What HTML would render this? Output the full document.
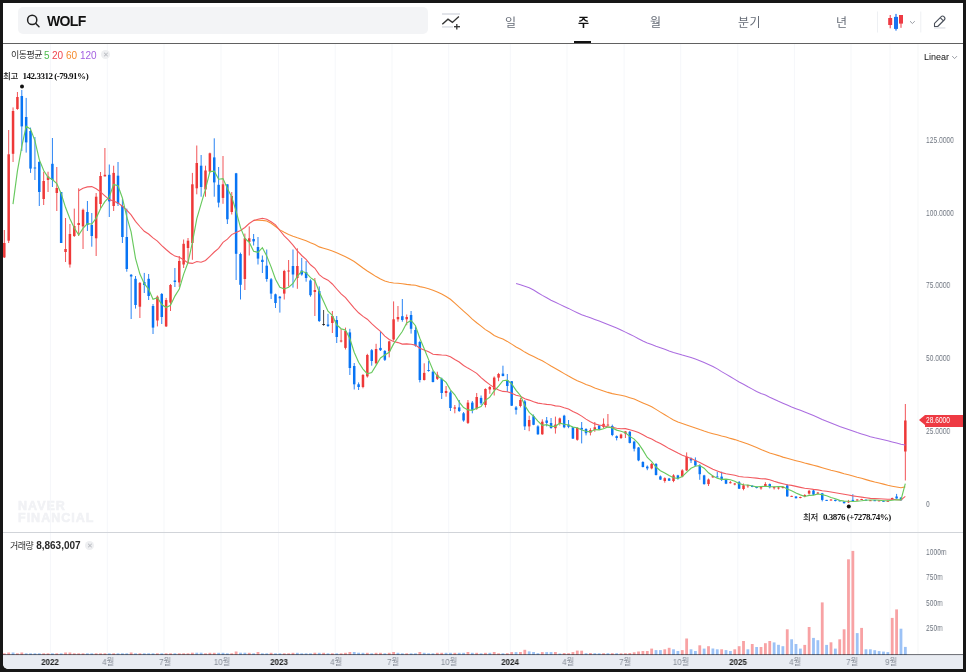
<!DOCTYPE html>
<html lang="ko"><head><meta charset="utf-8"><title>WOLF</title>
<style>
html,body{margin:0;padding:0;width:966px;height:672px;overflow:hidden;background:#171717;}
*{box-sizing:border-box;}
body{position:relative;font-family:"Liberation Sans","Noto Sans CJK KR",sans-serif;}
div{will-change:transform;}
#panel{position:absolute;left:3px;top:3px;width:960px;height:666px;background:#fff;border-radius:0 0 0 5px;overflow:hidden;}
.abs{position:absolute;}
#search{position:absolute;left:18px;top:7px;width:409.7px;height:27.3px;background:#f3f4f6;border-radius:5px;}
#wolf{position:absolute;left:46.5px;top:13px;font-size:14px;font-weight:bold;color:#111;letter-spacing:-0.65px;line-height:17px;}
.tab{position:absolute;top:15px;font-size:12px;line-height:16px;color:#666c77;font-family:"Liberation Sans","Noto Sans CJK KR",sans-serif;}
.tab.on{color:#111;font-weight:bold;}
#hline{position:absolute;left:3px;top:43px;width:960px;height:1px;background:#616161;}
#uline{position:absolute;left:574px;top:40.5px;width:17px;height:2.5px;background:#111;}
.yl{position:absolute;left:926px;font-size:8.6px;line-height:12px;color:#6f7680;font-family:"Liberation Sans",sans-serif;transform:scaleX(0.78);transform-origin:0 50%;white-space:nowrap;}
.xl{position:absolute;top:656px;width:40px;text-align:center;font-size:8.6px;line-height:12px;color:#868c96;font-family:"Liberation Sans","Noto Sans CJK KR",sans-serif;transform:scaleX(0.93);}
.xl.b{color:#222;font-weight:bold;}
#xaxis{position:absolute;left:3px;top:655px;width:960px;height:14px;background:#e9ecf2;border-top:1px solid #dfe2e8;border-radius:0 0 0 6px;}
#axline{position:absolute;left:3px;top:654px;width:960px;height:1px;background:rgba(30,34,44,0.62);}
#vsep{position:absolute;left:3px;top:532px;width:960px;height:1px;background:#d1d4d9;}
#legend{position:absolute;left:11px;top:49px;font-size:9px;line-height:13px;color:#2e2e2e;white-space:nowrap;}
#legend span{margin-left:0;}
.xbtn{display:inline-block;width:9px;height:9px;border-radius:50%;background:#eeeff1;color:#b4b7bd;font-size:7px;line-height:9px;text-align:center;vertical-align:1px;}
#vlabel{position:absolute;left:10px;top:539px;font-size:10px;line-height:13px;color:#2e2e2e;white-space:nowrap;}
#linear{position:absolute;left:923.5px;top:51px;font-size:9px;line-height:12px;color:#111;}
.mk{position:absolute;font-size:9px;line-height:11px;color:#111;white-space:nowrap;font-family:"Liberation Serif","Noto Sans CJK KR",serif;font-weight:bold;letter-spacing:-0.48px;}
.mk .k{font-family:"Noto Sans CJK KR",sans-serif;font-weight:500;letter-spacing:-0.3px;font-size:8.5px;color:#222;}
#wm{position:absolute;left:17.8px;top:501px;font-size:12.5px;line-height:11.5px;font-weight:bold;color:#f1f2f5;letter-spacing:1.0px;font-family:"Liberation Sans",sans-serif;-webkit-text-stroke:0.6px #f1f2f5;}
#ptag{position:absolute;left:924.8px;top:415px;width:38.2px;height:11.7px;background:#ee3a43;}
#ptag span{position:absolute;left:0.8px;top:0;color:#fff;font-size:8.6px;line-height:11.7px;transform:scaleX(0.77);transform-origin:0 50%;white-space:nowrap;}
#ptag:before{content:"";position:absolute;left:-6.1px;top:0;border-right:6.1px solid #ee3a43;border-top:5.85px solid transparent;border-bottom:5.85px solid transparent;}
.kr{font-size:9px;letter-spacing:-0.5px;}
.lg{position:absolute;top:48.5px;font-size:10px;line-height:13px;}
</style></head>
<body>
<div id="panel"></div>
<div id="search"></div>
<svg class="abs" style="left:0;top:0" width="966" height="44" viewBox="0 0 966 44">
  <circle cx="32.2" cy="19.9" r="4.6" fill="none" stroke="#222" stroke-width="1.5"/>
  <line x1="35.6" y1="23.3" x2="39" y2="26.7" stroke="#222" stroke-width="1.5" stroke-linecap="round"/>
  <rect x="442" y="13" width="18" height="2" fill="#e2e4e9"/>
  <rect x="442" y="26" width="11" height="1.8" fill="#e2e4e9"/>
  <polyline points="442.3,24.2 448,19.2 452.4,22.4 458.9,16.6" fill="none" stroke="#333" stroke-width="1.4"/>
  <line x1="454" y1="26.7" x2="460" y2="26.7" stroke="#333" stroke-width="1.3"/>
  <line x1="456.8" y1="23.9" x2="456.8" y2="29.6" stroke="#333" stroke-width="1.3"/>
  <rect x="877" y="11.5" width="1" height="21" fill="#eef0f3"/>
  <rect x="920.3" y="11.5" width="1" height="21" fill="#eef0f3"/>
  <rect x="889.7" y="15" width="1" height="13.3" fill="#ee3a43"/>
  <rect x="888.2" y="18" width="4" height="7" fill="#ee3a43"/>
  <rect x="895.4" y="13.9" width="1.2" height="16.7" fill="#1a73f0"/>
  <rect x="894" y="16.9" width="4" height="12" fill="#1a73f0"/>
  <rect x="900.5" y="15" width="1" height="12.8" fill="#ee3a43"/>
  <rect x="899" y="15" width="4" height="8.6" fill="#ee3a43"/>
  <polyline points="910,21.2 912.4,23.5 914.8,21.2" fill="none" stroke="#8e939b" stroke-width="0.9"/>
  <path d="M934.5,23.3 L941,16.8 A2.25,2.25 0 0 1 944.2,20 L937.7,26.5 L934.5,26.5 Z M940.2,17.6 L943.4,20.8" fill="none" stroke="#4a505a" stroke-width="1.1" stroke-linejoin="round"/>
  <rect x="934" y="27.3" width="11.4" height="1.3" fill="#dfe1e6"/>
</svg>
<svg class="abs" style="left:0;top:0" width="966" height="672" viewBox="0 0 966 672">
  <polyline points="952.2,56.1 954.6,58.6 957,56.1" fill="none" stroke="#8e939b" stroke-width="0.9"/>
</svg>
<div id="wolf">WOLF</div>
<div class="tab" style="left:505px">일</div>
<div class="tab on" style="left:577.7px">주</div>
<div class="tab" style="left:650px">월</div>
<div class="tab" style="left:738px;letter-spacing:0.5px">분기</div>
<div class="tab" style="left:835.5px">년</div>
<div id="uline"></div>
<div id="hline"></div>

<div id="wm">NAVER<br>FINANCIAL</div>

<svg class="abs" style="left:0;top:0" width="966" height="672" viewBox="0 0 966 672">
<defs>
<clipPath id="cc"><rect x="3" y="44" width="914" height="488"/></clipPath>
<clipPath id="cv"><rect x="3" y="533" width="914" height="122"/></clipPath>
</defs>
<rect x="49.9" y="44" width="1" height="610" fill="#f6f7fa"/>
<rect x="106.8" y="44" width="1" height="610" fill="#f6f7fa"/>
<rect x="163.5" y="44" width="1" height="610" fill="#f6f7fa"/>
<rect x="220.5" y="44" width="1" height="610" fill="#f6f7fa"/>
<rect x="278.0" y="44" width="1" height="610" fill="#f6f7fa"/>
<rect x="334.7" y="44" width="1" height="610" fill="#f6f7fa"/>
<rect x="391.5" y="44" width="1" height="610" fill="#f6f7fa"/>
<rect x="448.2" y="44" width="1" height="610" fill="#f6f7fa"/>
<rect x="509.8" y="44" width="1" height="610" fill="#f6f7fa"/>
<rect x="566.5" y="44" width="1" height="610" fill="#f6f7fa"/>
<rect x="623.6" y="44" width="1" height="610" fill="#f6f7fa"/>
<rect x="680.2" y="44" width="1" height="610" fill="#f6f7fa"/>
<rect x="737.3" y="44" width="1" height="610" fill="#f6f7fa"/>
<rect x="793.9" y="44" width="1" height="610" fill="#f6f7fa"/>
<rect x="850.5" y="44" width="1" height="610" fill="#f6f7fa"/>
<rect x="889.5" y="44" width="1" height="610" fill="#f6f7fa"/>
<rect x="917.2" y="44" width="1.6" height="610" fill="#f9fafb"/>
<g clip-path="url(#cc)"><rect x="3.80" y="230.0" width="1" height="28.0" fill="#f25558"/><rect x="3.05" y="243.0" width="2.5" height="14.4" fill="#ee3838"/><rect x="8.17" y="130.0" width="1" height="113.0" fill="#f25558"/><rect x="7.42" y="154.3" width="2.5" height="86.4" fill="#ee3838"/><rect x="12.55" y="107.4" width="1" height="54.6" fill="#f25558"/><rect x="11.80" y="111.0" width="2.5" height="42.8" fill="#ee3838"/><rect x="16.92" y="92.0" width="1" height="17.8" fill="#f25558"/><rect x="16.17" y="97.0" width="2.5" height="12.0" fill="#ee3838"/><rect x="21.30" y="90.0" width="1" height="61.0" fill="#2a84f4"/><rect x="20.55" y="96.0" width="2.5" height="30.4" fill="#0874f4"/><rect x="25.67" y="97.9" width="1" height="54.7" fill="#2a84f4"/><rect x="24.92" y="117.0" width="2.5" height="25.4" fill="#0874f4"/><rect x="30.04" y="127.6" width="1" height="45.3" fill="#2a84f4"/><rect x="29.29" y="131.0" width="2.5" height="37.6" fill="#0874f4"/><rect x="34.42" y="137.0" width="1" height="43.0" fill="#2a84f4"/><rect x="33.67" y="167.5" width="2.5" height="1.0" fill="#0874f4"/><rect x="38.79" y="161.0" width="1" height="45.0" fill="#2a84f4"/><rect x="38.04" y="162.0" width="2.5" height="30.0" fill="#0874f4"/><rect x="43.17" y="171.7" width="1" height="33.3" fill="#f25558"/><rect x="42.42" y="181.0" width="2.5" height="18.0" fill="#ee3838"/><rect x="47.54" y="171.7" width="1" height="20.3" fill="#f25558"/><rect x="46.79" y="176.4" width="2.5" height="3.6" fill="#ee3838"/><rect x="51.91" y="138.0" width="1" height="49.0" fill="#2a84f4"/><rect x="51.16" y="163.8" width="2.5" height="16.2" fill="#0874f4"/><rect x="56.29" y="167.0" width="1" height="44.0" fill="#f25558"/><rect x="55.54" y="188.0" width="2.5" height="5.0" fill="#ee3838"/><rect x="60.66" y="192.0" width="1" height="51.0" fill="#2a84f4"/><rect x="59.91" y="192.0" width="2.5" height="51.0" fill="#0874f4"/><rect x="65.04" y="218.0" width="1" height="44.0" fill="#f25558"/><rect x="64.29" y="249.0" width="2.5" height="3.0" fill="#ee3838"/><rect x="69.41" y="224.0" width="1" height="43.6" fill="#f25558"/><rect x="68.66" y="234.0" width="2.5" height="30.5" fill="#ee3838"/><rect x="73.78" y="208.6" width="1" height="28.4" fill="#f25558"/><rect x="73.03" y="226.0" width="2.5" height="10.0" fill="#ee3838"/><rect x="78.16" y="188.3" width="1" height="47.7" fill="#f25558"/><rect x="77.41" y="223.0" width="2.5" height="2.0" fill="#ee3838"/><rect x="82.53" y="208.6" width="1" height="40.4" fill="#f25558"/><rect x="81.78" y="209.8" width="2.5" height="16.6" fill="#ee3838"/><rect x="86.91" y="201.0" width="1" height="30.0" fill="#2a84f4"/><rect x="86.16" y="212.0" width="2.5" height="13.0" fill="#0874f4"/><rect x="91.28" y="213.0" width="1" height="33.7" fill="#2a84f4"/><rect x="90.53" y="225.0" width="2.5" height="11.0" fill="#0874f4"/><rect x="95.65" y="193.0" width="1" height="63.0" fill="#f25558"/><rect x="94.90" y="196.7" width="2.5" height="41.6" fill="#ee3838"/><rect x="100.03" y="172.0" width="1" height="36.0" fill="#f25558"/><rect x="99.28" y="176.0" width="2.5" height="28.0" fill="#ee3838"/><rect x="104.40" y="148.0" width="1" height="28.4" fill="#f25558"/><rect x="103.65" y="174.8" width="2.5" height="1.6" fill="#ee3838"/><rect x="108.78" y="164.5" width="1" height="52.5" fill="#2a84f4"/><rect x="108.03" y="174.8" width="2.5" height="26.6" fill="#0874f4"/><rect x="113.15" y="165.7" width="1" height="45.3" fill="#f25558"/><rect x="112.40" y="172.9" width="2.5" height="33.1" fill="#ee3838"/><rect x="117.52" y="162.0" width="1" height="44.0" fill="#2a84f4"/><rect x="116.77" y="175.7" width="2.5" height="28.1" fill="#0874f4"/><rect x="121.90" y="199.0" width="1" height="44.0" fill="#2a84f4"/><rect x="121.15" y="206.0" width="2.5" height="31.0" fill="#0874f4"/><rect x="126.27" y="208.6" width="1" height="63.1" fill="#2a84f4"/><rect x="125.52" y="237.0" width="2.5" height="32.0" fill="#0874f4"/><rect x="130.65" y="274.0" width="1" height="45.0" fill="#2a84f4"/><rect x="129.90" y="274.8" width="2.5" height="1.7" fill="#0874f4"/><rect x="135.02" y="276.0" width="1" height="32.6" fill="#2a84f4"/><rect x="134.27" y="278.8" width="2.5" height="26.2" fill="#0874f4"/><rect x="139.39" y="282.0" width="1" height="36.0" fill="#f25558"/><rect x="138.64" y="282.9" width="2.5" height="23.8" fill="#ee3838"/><rect x="143.77" y="272.9" width="1" height="20.1" fill="#2a84f4"/><rect x="143.02" y="282.0" width="2.5" height="3.0" fill="#0874f4"/><rect x="148.14" y="274.0" width="1" height="26.0" fill="#2a84f4"/><rect x="147.39" y="278.8" width="2.5" height="17.2" fill="#0874f4"/><rect x="152.52" y="304.0" width="1" height="30.0" fill="#2a84f4"/><rect x="151.77" y="306.0" width="2.5" height="21.6" fill="#0874f4"/><rect x="156.89" y="295.5" width="1" height="30.9" fill="#f25558"/><rect x="156.14" y="296.7" width="2.5" height="23.8" fill="#ee3838"/><rect x="161.26" y="293.0" width="1" height="31.0" fill="#2a84f4"/><rect x="160.51" y="294.0" width="2.5" height="23.0" fill="#0874f4"/><rect x="165.64" y="297.9" width="1" height="29.1" fill="#f25558"/><rect x="164.89" y="300.0" width="2.5" height="26.4" fill="#ee3838"/><rect x="170.01" y="284.0" width="1" height="27.0" fill="#f25558"/><rect x="169.26" y="285.0" width="2.5" height="17.6" fill="#ee3838"/><rect x="174.39" y="268.0" width="1" height="19.0" fill="#2a84f4"/><rect x="173.64" y="280.5" width="2.5" height="1.5" fill="#0874f4"/><rect x="178.76" y="256.0" width="1" height="31.0" fill="#f25558"/><rect x="178.01" y="261.0" width="2.5" height="21.4" fill="#ee3838"/><rect x="183.13" y="239.5" width="1" height="28.5" fill="#f25558"/><rect x="182.38" y="243.8" width="2.5" height="20.7" fill="#ee3838"/><rect x="187.51" y="238.0" width="1" height="25.0" fill="#f25558"/><rect x="186.76" y="240.7" width="2.5" height="7.3" fill="#ee3838"/><rect x="191.88" y="172.9" width="1" height="86.9" fill="#f25558"/><rect x="191.13" y="184.3" width="2.5" height="58.7" fill="#ee3838"/><rect x="196.26" y="145.5" width="1" height="48.8" fill="#f25558"/><rect x="195.51" y="163.0" width="2.5" height="25.3" fill="#ee3838"/><rect x="200.63" y="155.0" width="1" height="41.7" fill="#2a84f4"/><rect x="199.88" y="165.7" width="2.5" height="21.3" fill="#0874f4"/><rect x="205.00" y="165.7" width="1" height="31.0" fill="#f25558"/><rect x="204.25" y="170.5" width="2.5" height="19.0" fill="#ee3838"/><rect x="209.38" y="152.6" width="1" height="20.3" fill="#f25558"/><rect x="208.63" y="153.3" width="2.5" height="18.4" fill="#ee3838"/><rect x="213.75" y="138.3" width="1" height="58.4" fill="#2a84f4"/><rect x="213.00" y="157.4" width="2.5" height="25.0" fill="#0874f4"/><rect x="218.13" y="167.0" width="1" height="40.4" fill="#2a84f4"/><rect x="217.38" y="184.8" width="2.5" height="17.8" fill="#0874f4"/><rect x="222.50" y="156.0" width="1" height="47.8" fill="#f25558"/><rect x="221.75" y="184.3" width="2.5" height="13.6" fill="#ee3838"/><rect x="226.87" y="184.3" width="1" height="39.7" fill="#2a84f4"/><rect x="226.12" y="184.3" width="2.5" height="35.0" fill="#0874f4"/><rect x="231.25" y="192.0" width="1" height="22.5" fill="#f25558"/><rect x="230.50" y="196.0" width="2.5" height="16.0" fill="#ee3838"/><rect x="235.62" y="172.9" width="1" height="107.1" fill="#2a84f4"/><rect x="234.87" y="173.3" width="2.5" height="80.5" fill="#0874f4"/><rect x="240.00" y="252.6" width="1" height="46.9" fill="#2a84f4"/><rect x="239.25" y="254.0" width="2.5" height="30.8" fill="#0874f4"/><rect x="244.37" y="233.6" width="1" height="56.4" fill="#f25558"/><rect x="243.62" y="238.3" width="2.5" height="40.7" fill="#ee3838"/><rect x="248.74" y="226.4" width="1" height="29.1" fill="#f25558"/><rect x="247.99" y="238.3" width="2.5" height="3.7" fill="#ee3838"/><rect x="253.12" y="234.0" width="1" height="11.5" fill="#2a84f4"/><rect x="252.37" y="239.0" width="2.5" height="2.4" fill="#0874f4"/><rect x="257.49" y="237.0" width="1" height="27.5" fill="#2a84f4"/><rect x="256.74" y="247.0" width="2.5" height="11.6" fill="#0874f4"/><rect x="261.87" y="255.5" width="1" height="17.5" fill="#2a84f4"/><rect x="261.12" y="259.8" width="2.5" height="2.2" fill="#0874f4"/><rect x="266.24" y="249.5" width="1" height="32.2" fill="#2a84f4"/><rect x="265.49" y="265.7" width="2.5" height="13.3" fill="#0874f4"/><rect x="270.61" y="278.0" width="1" height="21.0" fill="#2a84f4"/><rect x="269.86" y="279.3" width="2.5" height="14.3" fill="#0874f4"/><rect x="274.99" y="293.6" width="1" height="14.4" fill="#2a84f4"/><rect x="274.24" y="294.3" width="2.5" height="8.7" fill="#0874f4"/><rect x="279.36" y="296.0" width="1" height="16.6" fill="#2a84f4"/><rect x="278.61" y="296.7" width="2.5" height="1.6" fill="#0874f4"/><rect x="283.74" y="269.8" width="1" height="29.7" fill="#f25558"/><rect x="282.99" y="271.0" width="2.5" height="22.6" fill="#ee3838"/><rect x="288.11" y="260.0" width="1" height="26.4" fill="#f25558"/><rect x="287.36" y="270.5" width="2.5" height="1.0" fill="#ee3838"/><rect x="292.48" y="249.5" width="1" height="38.1" fill="#2a84f4"/><rect x="291.73" y="266.0" width="2.5" height="8.5" fill="#0874f4"/><rect x="296.86" y="248.3" width="1" height="40.5" fill="#f25558"/><rect x="296.11" y="266.0" width="2.5" height="12.0" fill="#ee3838"/><rect x="301.23" y="257.9" width="1" height="17.8" fill="#2a84f4"/><rect x="300.48" y="270.5" width="2.5" height="4.0" fill="#0874f4"/><rect x="305.61" y="261.0" width="1" height="20.7" fill="#2a84f4"/><rect x="304.86" y="272.0" width="2.5" height="6.0" fill="#0874f4"/><rect x="309.98" y="279.3" width="1" height="17.4" fill="#2a84f4"/><rect x="309.23" y="280.5" width="2.5" height="14.7" fill="#0874f4"/><rect x="314.35" y="278.0" width="1" height="38.0" fill="#f25558"/><rect x="313.60" y="290.0" width="2.5" height="2.0" fill="#ee3838"/><rect x="318.73" y="286.4" width="1" height="35.6" fill="#2a84f4"/><rect x="317.98" y="291.0" width="2.5" height="30.0" fill="#0874f4"/><rect x="323.10" y="310.0" width="1" height="15.7" fill="#444"/><rect x="322.35" y="324.0" width="2.5" height="1.0" fill="#222"/><rect x="327.48" y="313.8" width="1" height="13.2" fill="#2a84f4"/><rect x="326.73" y="324.5" width="2.5" height="1.5" fill="#0874f4"/><rect x="331.85" y="311.0" width="1" height="22.0" fill="#f25558"/><rect x="331.10" y="316.0" width="2.5" height="7.0" fill="#ee3838"/><rect x="336.22" y="316.0" width="1" height="27.0" fill="#2a84f4"/><rect x="335.47" y="320.0" width="2.5" height="17.0" fill="#0874f4"/><rect x="340.60" y="329.0" width="1" height="13.4" fill="#f25558"/><rect x="339.85" y="340.5" width="2.5" height="1.0" fill="#ee3838"/><rect x="344.97" y="327.6" width="1" height="21.9" fill="#f25558"/><rect x="344.22" y="331.0" width="2.5" height="16.9" fill="#ee3838"/><rect x="349.35" y="328.8" width="1" height="46.2" fill="#2a84f4"/><rect x="348.60" y="332.4" width="2.5" height="35.6" fill="#0874f4"/><rect x="353.72" y="363.0" width="1" height="26.5" fill="#2a84f4"/><rect x="352.97" y="366.0" width="2.5" height="18.3" fill="#0874f4"/><rect x="358.09" y="382.4" width="1" height="7.6" fill="#2a84f4"/><rect x="357.34" y="384.3" width="2.5" height="2.7" fill="#0874f4"/><rect x="362.47" y="374.0" width="1" height="14.3" fill="#f25558"/><rect x="361.72" y="375.0" width="2.5" height="12.0" fill="#ee3838"/><rect x="366.84" y="353.8" width="1" height="23.8" fill="#f25558"/><rect x="366.09" y="355.0" width="2.5" height="21.4" fill="#ee3838"/><rect x="371.22" y="349.0" width="1" height="16.7" fill="#2a84f4"/><rect x="370.47" y="350.2" width="2.5" height="10.8" fill="#0874f4"/><rect x="375.59" y="343.8" width="1" height="20.7" fill="#f25558"/><rect x="374.84" y="349.0" width="2.5" height="14.3" fill="#ee3838"/><rect x="379.96" y="332.0" width="1" height="19.0" fill="#2a84f4"/><rect x="379.21" y="347.9" width="2.5" height="2.3" fill="#0874f4"/><rect x="384.34" y="350.0" width="1" height="11.0" fill="#2a84f4"/><rect x="383.59" y="351.0" width="2.5" height="8.8" fill="#0874f4"/><rect x="388.71" y="340.7" width="1" height="16.7" fill="#f25558"/><rect x="387.96" y="341.4" width="2.5" height="10.0" fill="#ee3838"/><rect x="393.09" y="301.4" width="1" height="39.3" fill="#f25558"/><rect x="392.34" y="319.3" width="2.5" height="20.2" fill="#ee3838"/><rect x="397.46" y="306.0" width="1" height="15.7" fill="#f25558"/><rect x="396.71" y="317.0" width="2.5" height="2.3" fill="#ee3838"/><rect x="401.83" y="299.0" width="1" height="22.7" fill="#2a84f4"/><rect x="401.08" y="316.2" width="2.5" height="3.8" fill="#0874f4"/><rect x="406.21" y="314.5" width="1" height="10.7" fill="#f25558"/><rect x="405.46" y="317.0" width="2.5" height="2.3" fill="#ee3838"/><rect x="410.58" y="311.0" width="1" height="22.6" fill="#2a84f4"/><rect x="409.83" y="315.0" width="2.5" height="13.8" fill="#0874f4"/><rect x="414.96" y="326.4" width="1" height="20.3" fill="#2a84f4"/><rect x="414.21" y="330.0" width="2.5" height="15.5" fill="#0874f4"/><rect x="419.33" y="340.7" width="1" height="41.7" fill="#2a84f4"/><rect x="418.58" y="342.0" width="2.5" height="38.0" fill="#0874f4"/><rect x="423.70" y="363.3" width="1" height="17.2" fill="#f25558"/><rect x="422.95" y="372.9" width="2.5" height="7.1" fill="#ee3838"/><rect x="428.08" y="361.0" width="1" height="10.7" fill="#2a84f4"/><rect x="427.33" y="370.0" width="2.5" height="1.0" fill="#0874f4"/><rect x="432.45" y="370.5" width="1" height="11.9" fill="#2a84f4"/><rect x="431.70" y="371.7" width="2.5" height="10.3" fill="#0874f4"/><rect x="436.83" y="371.7" width="1" height="8.3" fill="#f25558"/><rect x="436.08" y="374.8" width="2.5" height="4.0" fill="#ee3838"/><rect x="441.20" y="377.6" width="1" height="21.4" fill="#2a84f4"/><rect x="440.45" y="378.8" width="2.5" height="14.2" fill="#0874f4"/><rect x="445.57" y="386.0" width="1" height="10.7" fill="#f25558"/><rect x="444.82" y="391.0" width="2.5" height="2.0" fill="#ee3838"/><rect x="449.95" y="390.7" width="1" height="20.3" fill="#2a84f4"/><rect x="449.20" y="392.4" width="2.5" height="15.6" fill="#0874f4"/><rect x="454.32" y="405.0" width="1" height="8.3" fill="#f25558"/><rect x="453.57" y="407.4" width="2.5" height="1.2" fill="#ee3838"/><rect x="458.70" y="400.0" width="1" height="12.0" fill="#2a84f4"/><rect x="457.95" y="407.4" width="2.5" height="3.6" fill="#0874f4"/><rect x="463.07" y="412.0" width="1" height="9.7" fill="#2a84f4"/><rect x="462.32" y="413.3" width="2.5" height="7.2" fill="#0874f4"/><rect x="467.44" y="400.0" width="1" height="24.0" fill="#f25558"/><rect x="466.69" y="402.6" width="2.5" height="20.3" fill="#ee3838"/><rect x="471.82" y="401.0" width="1" height="12.3" fill="#2a84f4"/><rect x="471.07" y="402.6" width="2.5" height="7.2" fill="#0874f4"/><rect x="476.19" y="393.0" width="1" height="16.8" fill="#f25558"/><rect x="475.44" y="397.0" width="2.5" height="11.6" fill="#ee3838"/><rect x="480.57" y="395.5" width="1" height="9.5" fill="#2a84f4"/><rect x="479.82" y="397.9" width="2.5" height="5.4" fill="#0874f4"/><rect x="484.94" y="388.3" width="1" height="19.1" fill="#f25558"/><rect x="484.19" y="389.0" width="2.5" height="16.0" fill="#ee3838"/><rect x="489.31" y="386.0" width="1" height="7.8" fill="#f25558"/><rect x="488.56" y="387.0" width="2.5" height="2.5" fill="#ee3838"/><rect x="493.69" y="376.4" width="1" height="19.1" fill="#f25558"/><rect x="492.94" y="377.6" width="2.5" height="11.9" fill="#ee3838"/><rect x="498.06" y="372.9" width="1" height="8.3" fill="#f25558"/><rect x="497.31" y="374.0" width="2.5" height="3.6" fill="#ee3838"/><rect x="502.44" y="365.7" width="1" height="10.7" fill="#2a84f4"/><rect x="501.69" y="373.6" width="2.5" height="2.4" fill="#0874f4"/><rect x="506.81" y="374.0" width="1" height="18.0" fill="#2a84f4"/><rect x="506.06" y="380.0" width="2.5" height="6.0" fill="#0874f4"/><rect x="511.18" y="381.0" width="1" height="25.0" fill="#2a84f4"/><rect x="510.43" y="381.2" width="2.5" height="24.5" fill="#0874f4"/><rect x="515.56" y="406.0" width="1" height="8.5" fill="#2a84f4"/><rect x="514.81" y="407.4" width="2.5" height="2.4" fill="#0874f4"/><rect x="519.93" y="397.9" width="1" height="9.5" fill="#f25558"/><rect x="519.18" y="400.0" width="2.5" height="6.0" fill="#ee3838"/><rect x="524.31" y="400.0" width="1" height="30.0" fill="#2a84f4"/><rect x="523.56" y="401.4" width="2.5" height="25.0" fill="#0874f4"/><rect x="528.68" y="415.7" width="1" height="15.5" fill="#f25558"/><rect x="527.93" y="420.0" width="2.5" height="6.4" fill="#ee3838"/><rect x="533.05" y="414.5" width="1" height="10.7" fill="#2a84f4"/><rect x="532.30" y="416.2" width="2.5" height="8.6" fill="#0874f4"/><rect x="537.43" y="425.2" width="1" height="9.6" fill="#2a84f4"/><rect x="536.68" y="426.4" width="2.5" height="7.9" fill="#0874f4"/><rect x="541.80" y="419.3" width="1" height="15.5" fill="#f25558"/><rect x="541.05" y="421.7" width="2.5" height="12.6" fill="#ee3838"/><rect x="546.18" y="417.0" width="1" height="9.4" fill="#2a84f4"/><rect x="545.43" y="420.5" width="2.5" height="2.4" fill="#0874f4"/><rect x="550.55" y="418.0" width="1" height="10.8" fill="#2a84f4"/><rect x="549.80" y="423.0" width="2.5" height="5.0" fill="#0874f4"/><rect x="554.92" y="416.6" width="1" height="17.0" fill="#f25558"/><rect x="554.17" y="424.6" width="2.5" height="3.6" fill="#ee3838"/><rect x="559.30" y="417.5" width="1" height="8.0" fill="#f25558"/><rect x="558.55" y="418.4" width="2.5" height="5.4" fill="#ee3838"/><rect x="563.67" y="414.8" width="1" height="13.4" fill="#2a84f4"/><rect x="562.92" y="415.7" width="2.5" height="11.6" fill="#0874f4"/><rect x="568.05" y="420.0" width="1" height="8.2" fill="#2a84f4"/><rect x="567.30" y="424.6" width="2.5" height="2.2" fill="#0874f4"/><rect x="572.42" y="426.8" width="1" height="12.2" fill="#2a84f4"/><rect x="571.67" y="427.3" width="2.5" height="11.3" fill="#0874f4"/><rect x="576.79" y="427.3" width="1" height="13.4" fill="#f25558"/><rect x="576.04" y="427.9" width="2.5" height="11.9" fill="#ee3838"/><rect x="581.17" y="422.0" width="1" height="21.4" fill="#2a84f4"/><rect x="580.42" y="427.9" width="2.5" height="1.7" fill="#0874f4"/><rect x="585.54" y="428.2" width="1" height="7.2" fill="#2a84f4"/><rect x="584.79" y="429.0" width="2.5" height="4.2" fill="#0874f4"/><rect x="589.92" y="428.2" width="1" height="7.2" fill="#f25558"/><rect x="589.17" y="430.0" width="2.5" height="2.7" fill="#ee3838"/><rect x="594.29" y="422.0" width="1" height="9.8" fill="#f25558"/><rect x="593.54" y="427.3" width="2.5" height="2.7" fill="#ee3838"/><rect x="598.66" y="425.0" width="1" height="5.0" fill="#2a84f4"/><rect x="597.91" y="425.5" width="2.5" height="3.6" fill="#0874f4"/><rect x="603.04" y="418.4" width="1" height="9.8" fill="#f25558"/><rect x="602.29" y="423.8" width="2.5" height="3.1" fill="#ee3838"/><rect x="607.41" y="414.0" width="1" height="11.5" fill="#f25558"/><rect x="606.66" y="424.6" width="2.5" height="1.0" fill="#ee3838"/><rect x="611.79" y="424.6" width="1" height="11.6" fill="#2a84f4"/><rect x="611.04" y="426.0" width="2.5" height="9.0" fill="#0874f4"/><rect x="616.16" y="435.4" width="1" height="5.0" fill="#2a84f4"/><rect x="615.41" y="436.2" width="2.5" height="1.8" fill="#0874f4"/><rect x="620.53" y="433.6" width="1" height="5.4" fill="#f25558"/><rect x="619.78" y="434.5" width="2.5" height="3.5" fill="#ee3838"/><rect x="624.91" y="431.0" width="1" height="7.0" fill="#f25558"/><rect x="624.16" y="431.4" width="2.5" height="2.2" fill="#ee3838"/><rect x="629.28" y="431.0" width="1" height="12.4" fill="#2a84f4"/><rect x="628.53" y="431.8" width="2.5" height="11.1" fill="#0874f4"/><rect x="633.66" y="440.7" width="1" height="10.7" fill="#2a84f4"/><rect x="632.91" y="441.6" width="2.5" height="7.1" fill="#0874f4"/><rect x="638.03" y="447.0" width="1" height="14.2" fill="#2a84f4"/><rect x="637.28" y="447.5" width="2.5" height="12.9" fill="#0874f4"/><rect x="642.40" y="461.2" width="1" height="6.2" fill="#2a84f4"/><rect x="641.65" y="462.0" width="2.5" height="5.0" fill="#0874f4"/><rect x="646.78" y="465.4" width="1" height="4.8" fill="#2a84f4"/><rect x="646.03" y="466.6" width="2.5" height="1.8" fill="#0874f4"/><rect x="651.15" y="463.0" width="1" height="6.3" fill="#f25558"/><rect x="650.40" y="464.0" width="2.5" height="4.4" fill="#ee3838"/><rect x="655.53" y="463.0" width="1" height="12.5" fill="#2a84f4"/><rect x="654.78" y="464.0" width="2.5" height="11.0" fill="#0874f4"/><rect x="659.90" y="475.5" width="1" height="4.5" fill="#2a84f4"/><rect x="659.15" y="476.4" width="2.5" height="3.2" fill="#0874f4"/><rect x="664.27" y="477.3" width="1" height="5.4" fill="#f25558"/><rect x="663.52" y="478.2" width="2.5" height="2.8" fill="#ee3838"/><rect x="668.65" y="477.9" width="1" height="3.1" fill="#2a84f4"/><rect x="667.90" y="478.5" width="2.5" height="2.2" fill="#0874f4"/><rect x="673.02" y="474.2" width="1" height="8.0" fill="#f25558"/><rect x="672.27" y="475.4" width="2.5" height="5.6" fill="#ee3838"/><rect x="677.40" y="474.8" width="1" height="4.9" fill="#2a84f4"/><rect x="676.65" y="475.4" width="2.5" height="3.1" fill="#0874f4"/><rect x="681.77" y="469.2" width="1" height="8.1" fill="#f25558"/><rect x="681.02" y="470.4" width="2.5" height="6.2" fill="#ee3838"/><rect x="686.14" y="452.4" width="1" height="18.6" fill="#f25558"/><rect x="685.39" y="456.8" width="2.5" height="13.6" fill="#ee3838"/><rect x="690.52" y="457.4" width="1" height="5.6" fill="#2a84f4"/><rect x="689.77" y="458.4" width="2.5" height="2.1" fill="#0874f4"/><rect x="694.89" y="457.4" width="1" height="8.6" fill="#2a84f4"/><rect x="694.14" y="460.5" width="2.5" height="5.0" fill="#0874f4"/><rect x="699.27" y="464.2" width="1" height="15.6" fill="#2a84f4"/><rect x="698.52" y="465.5" width="2.5" height="8.7" fill="#0874f4"/><rect x="703.64" y="474.8" width="1" height="9.9" fill="#2a84f4"/><rect x="702.89" y="475.4" width="2.5" height="8.7" fill="#0874f4"/><rect x="708.01" y="478.5" width="1" height="7.5" fill="#f25558"/><rect x="707.26" y="479.5" width="2.5" height="4.6" fill="#ee3838"/><rect x="712.39" y="475.4" width="1" height="2.5" fill="#f25558"/><rect x="711.64" y="476.0" width="2.5" height="1.3" fill="#ee3838"/><rect x="716.76" y="471.7" width="1" height="5.6" fill="#2a84f4"/><rect x="716.01" y="476.5" width="2.5" height="1.0" fill="#0874f4"/><rect x="721.14" y="471.7" width="1" height="9.3" fill="#2a84f4"/><rect x="720.39" y="476.6" width="2.5" height="3.1" fill="#0874f4"/><rect x="725.51" y="479.0" width="1" height="5.1" fill="#2a84f4"/><rect x="724.76" y="479.8" width="2.5" height="3.9" fill="#0874f4"/><rect x="729.88" y="481.0" width="1" height="2.5" fill="#f25558"/><rect x="729.13" y="482.2" width="2.5" height="1.0" fill="#ee3838"/><rect x="734.26" y="482.9" width="1" height="2.4" fill="#f25558"/><rect x="733.51" y="483.5" width="2.5" height="1.0" fill="#ee3838"/><rect x="738.63" y="481.0" width="1" height="8.0" fill="#2a84f4"/><rect x="737.88" y="482.2" width="2.5" height="6.5" fill="#0874f4"/><rect x="743.01" y="483.5" width="1" height="6.8" fill="#f25558"/><rect x="742.26" y="485.3" width="2.5" height="3.7" fill="#ee3838"/><rect x="747.38" y="484.7" width="1" height="3.1" fill="#f25558"/><rect x="746.63" y="485.3" width="2.5" height="1.0" fill="#ee3838"/><rect x="751.75" y="485.3" width="1" height="1.9" fill="#2a84f4"/><rect x="751.00" y="485.7" width="2.5" height="1.3" fill="#0874f4"/><rect x="756.13" y="486.6" width="1" height="1.8" fill="#2a84f4"/><rect x="755.38" y="487.0" width="2.5" height="1.0" fill="#0874f4"/><rect x="760.50" y="486.6" width="1" height="3.1" fill="#f25558"/><rect x="759.75" y="487.2" width="2.5" height="1.2" fill="#ee3838"/><rect x="764.88" y="482.2" width="1" height="4.4" fill="#f25558"/><rect x="764.13" y="484.0" width="2.5" height="2.2" fill="#ee3838"/><rect x="769.25" y="483.5" width="1" height="4.9" fill="#2a84f4"/><rect x="768.50" y="484.1" width="2.5" height="3.1" fill="#0874f4"/><rect x="773.62" y="486.4" width="1" height="3.1" fill="#f25558"/><rect x="772.87" y="487.2" width="2.5" height="1.0" fill="#ee3838"/><rect x="778.00" y="487.0" width="1" height="2.5" fill="#f25558"/><rect x="777.25" y="487.5" width="2.5" height="1.0" fill="#ee3838"/><rect x="782.37" y="486.7" width="1" height="1.8" fill="#f25558"/><rect x="781.62" y="487.0" width="2.5" height="1.0" fill="#ee3838"/><rect x="786.75" y="484.3" width="1" height="12.4" fill="#2a84f4"/><rect x="786.00" y="485.4" width="2.5" height="11.0" fill="#0874f4"/><rect x="791.12" y="495.7" width="1" height="1.0" fill="#f25558"/><rect x="790.37" y="495.9" width="2.5" height="1.0" fill="#ee3838"/><rect x="795.49" y="496.2" width="1" height="2.3" fill="#2a84f4"/><rect x="794.74" y="496.5" width="2.5" height="1.7" fill="#0874f4"/><rect x="799.87" y="496.7" width="1" height="1.6" fill="#f25558"/><rect x="799.12" y="497.0" width="2.5" height="1.0" fill="#ee3838"/><rect x="804.24" y="494.2" width="1" height="3.1" fill="#f25558"/><rect x="803.49" y="495.0" width="2.5" height="1.4" fill="#ee3838"/><rect x="808.62" y="490.0" width="1" height="4.7" fill="#f25558"/><rect x="807.87" y="490.8" width="2.5" height="2.8" fill="#ee3838"/><rect x="812.99" y="490.0" width="1" height="5.2" fill="#2a84f4"/><rect x="812.24" y="490.5" width="2.5" height="4.2" fill="#0874f4"/><rect x="817.36" y="492.0" width="1" height="2.2" fill="#f25558"/><rect x="816.61" y="492.6" width="2.5" height="1.0" fill="#ee3838"/><rect x="821.74" y="492.9" width="1" height="8.5" fill="#2a84f4"/><rect x="820.99" y="493.3" width="2.5" height="6.6" fill="#0874f4"/><rect x="826.11" y="499.9" width="1" height="0.8" fill="#2a84f4"/><rect x="825.36" y="499.9" width="2.5" height="1.0" fill="#0874f4"/><rect x="830.49" y="499.3" width="1" height="1.3" fill="#f25558"/><rect x="829.74" y="499.5" width="2.5" height="1.0" fill="#ee3838"/><rect x="834.86" y="499.6" width="1" height="1.8" fill="#2a84f4"/><rect x="834.11" y="499.8" width="2.5" height="1.2" fill="#0874f4"/><rect x="839.23" y="500.0" width="1" height="1.5" fill="#2a84f4"/><rect x="838.48" y="500.3" width="2.5" height="1.0" fill="#0874f4"/><rect x="843.61" y="501.4" width="1" height="2.1" fill="#2a84f4"/><rect x="842.86" y="501.6" width="2.5" height="1.6" fill="#0874f4"/><rect x="847.98" y="499.9" width="1" height="3.1" fill="#f25558"/><rect x="847.23" y="501.4" width="2.5" height="1.0" fill="#ee3838"/><rect x="852.36" y="494.2" width="1" height="7.2" fill="#2a84f4"/><rect x="851.61" y="499.9" width="2.5" height="1.0" fill="#0874f4"/><rect x="856.73" y="499.3" width="1" height="1.3" fill="#f25558"/><rect x="855.98" y="499.5" width="2.5" height="1.0" fill="#ee3838"/><rect x="861.10" y="498.8" width="1" height="1.1" fill="#f25558"/><rect x="860.35" y="499.0" width="2.5" height="1.0" fill="#ee3838"/><rect x="865.48" y="499.5" width="1" height="1.3" fill="#2a84f4"/><rect x="864.73" y="499.7" width="2.5" height="1.0" fill="#0874f4"/><rect x="869.85" y="500.0" width="1" height="1.0" fill="#f25558"/><rect x="869.10" y="500.2" width="2.5" height="1.0" fill="#ee3838"/><rect x="874.23" y="500.0" width="1" height="1.0" fill="#2a84f4"/><rect x="873.48" y="500.2" width="2.5" height="1.0" fill="#0874f4"/><rect x="878.60" y="500.2" width="1" height="1.0" fill="#f25558"/><rect x="877.85" y="500.4" width="2.5" height="1.0" fill="#ee3838"/><rect x="882.97" y="500.6" width="1" height="1.1" fill="#2a84f4"/><rect x="882.22" y="500.8" width="2.5" height="1.0" fill="#0874f4"/><rect x="887.35" y="500.5" width="1" height="1.0" fill="#f25558"/><rect x="886.60" y="500.8" width="2.5" height="1.0" fill="#ee3838"/><rect x="891.72" y="497.6" width="1" height="2.2" fill="#f25558"/><rect x="890.97" y="498.0" width="2.5" height="1.5" fill="#ee3838"/><rect x="896.10" y="493.9" width="1" height="4.8" fill="#2a84f4"/><rect x="895.35" y="496.5" width="2.5" height="2.0" fill="#0874f4"/><rect x="900.47" y="497.2" width="1" height="3.4" fill="#2a84f4"/><rect x="899.72" y="497.6" width="2.5" height="2.6" fill="#0874f4"/><rect x="904.84" y="404.0" width="1" height="76.5" fill="#f25558"/><rect x="904.09" y="420.5" width="2.5" height="31.0" fill="#ee3838"/></g>
<polyline points="516.1,283.6 520.4,284.8 524.8,286.2 529.2,287.7 533.6,290.0 537.9,292.7 542.3,295.4 546.7,297.8 551.0,300.2 555.4,302.3 559.8,304.4 564.2,306.4 568.5,308.4 572.9,310.6 577.3,312.7 581.7,314.7 586.0,316.3 590.4,317.8 594.8,319.4 599.2,321.1 603.5,322.8 607.9,324.6 612.3,326.3 616.7,328.0 621.0,330.0 625.4,332.1 629.8,334.3 634.2,336.4 638.5,338.8 642.9,341.0 647.3,342.9 651.7,344.5 656.0,346.2 660.4,347.7 664.8,349.3 669.1,350.9 673.5,352.4 677.9,353.7 682.3,355.1 686.6,356.3 691.0,357.6 695.4,359.1 699.8,360.7 704.1,362.6 708.5,364.5 712.9,366.5 717.3,368.9 721.6,371.6 726.0,374.1 730.4,376.7 734.8,379.4 739.1,382.0 743.5,384.3 747.9,386.8 752.3,389.1 756.6,391.5 761.0,393.4 765.4,395.1 769.7,397.2 774.1,399.2 778.5,401.3 782.9,403.2 787.2,405.1 791.6,407.0 796.0,408.7 800.4,410.3 804.7,411.9 809.1,413.7 813.5,415.6 817.9,417.4 822.2,419.4 826.6,421.3 831.0,423.1 835.4,424.8 839.7,426.6 844.1,428.1 848.5,429.6 852.9,431.0 857.2,432.6 861.6,433.9 866.0,435.3 870.4,436.7 874.7,437.8 879.1,438.7 883.5,439.7 887.8,440.7 892.2,441.9 896.6,443.1 901.0,444.3 905.3,444.9" fill="none" stroke="#ab6de0" stroke-width="1.05"/>
<polyline points="253.6,220.3 258.0,220.2 262.4,220.4 266.7,221.0 271.1,223.3 275.5,226.5 279.9,229.9 284.2,232.3 288.6,234.4 293.0,236.2 297.4,237.8 301.7,239.2 306.1,240.8 310.5,242.8 314.9,244.6 319.2,246.9 323.6,248.2 328.0,249.5 332.3,250.9 336.7,252.7 341.1,254.7 345.5,256.7 349.8,259.1 354.2,261.5 358.6,264.7 363.0,268.0 367.3,271.0 371.7,273.7 376.1,276.6 380.5,279.1 384.8,281.1 389.2,282.3 393.6,283.0 398.0,283.2 402.3,283.8 406.7,284.4 411.1,284.9 415.5,285.2 419.8,286.6 424.2,287.5 428.6,288.7 433.0,290.3 437.3,291.9 441.7,294.1 446.1,296.5 450.4,299.3 454.8,303.1 459.2,307.2 463.6,311.1 467.9,314.9 472.3,319.2 476.7,322.8 481.1,326.1 485.4,329.6 489.8,332.3 494.2,335.4 498.6,337.4 502.9,338.9 507.3,341.4 511.7,344.1 516.1,347.0 520.4,349.3 524.8,352.1 529.2,354.4 533.6,356.6 537.9,358.8 542.3,360.8 546.7,363.4 551.0,366.0 555.4,368.5 559.8,371.0 564.2,373.6 568.5,376.1 572.9,378.4 577.3,380.7 581.7,382.6 586.0,384.4 590.4,386.1 594.8,388.0 599.2,389.5 603.5,390.9 607.9,392.4 612.3,393.6 616.7,394.5 621.0,395.3 625.4,396.2 629.8,397.7 634.2,399.1 638.5,401.0 642.9,402.9 647.3,404.7 651.7,406.8 656.0,409.4 660.4,412.1 664.8,414.7 669.1,417.4 673.5,419.9 677.9,422.1 682.3,423.6 686.6,425.0 691.0,426.5 695.4,427.9 699.8,429.6 704.1,431.1 708.5,432.5 712.9,433.7 717.3,434.8 721.6,436.0 726.0,437.0 730.4,438.4 734.8,439.6 739.1,441.1 743.5,442.5 747.9,444.1 752.3,445.8 756.6,447.6 761.0,449.5 765.4,451.3 769.7,453.0 774.1,454.3 778.5,455.6 782.9,457.1 787.2,458.2 791.6,459.5 796.0,460.7 800.4,461.8 804.7,463.0 809.1,464.1 813.5,465.2 817.9,466.4 822.2,467.7 826.6,469.0 831.0,470.2 835.4,471.2 839.7,472.4 844.1,473.7 848.5,474.8 852.9,476.0 857.2,477.2 861.6,478.3 866.0,479.6 870.4,480.9 874.7,482.0 879.1,483.0 883.5,484.1 887.8,485.3 892.2,486.2 896.6,487.0 901.0,487.7 905.3,486.9" fill="none" stroke="#f7923a" stroke-width="1.1"/>
<polyline points="78.7,190.8 83.0,188.2 87.4,186.9 91.8,186.6 96.2,188.7 100.5,191.9 104.9,195.8 109.3,199.6 113.6,201.1 118.0,202.9 122.4,206.3 126.8,210.1 131.1,214.9 135.5,221.3 139.9,226.5 144.3,231.3 148.6,234.0 153.0,237.9 157.4,241.1 161.8,245.6 166.1,249.5 170.5,253.2 174.9,256.1 179.3,257.3 183.6,259.7 188.0,262.9 192.4,263.4 196.8,261.5 201.1,262.2 205.5,260.5 209.9,256.3 214.3,252.0 218.6,248.3 223.0,242.3 227.4,239.1 231.7,234.6 236.1,232.5 240.5,230.4 244.9,227.5 249.2,223.5 253.6,220.6 258.0,219.3 262.4,218.3 266.7,219.2 271.1,221.7 275.5,224.8 279.9,230.5 284.2,235.9 288.6,240.1 293.0,245.2 297.4,250.9 301.7,255.5 306.1,259.3 310.5,264.8 314.9,268.3 319.2,274.6 323.6,278.1 328.0,280.2 332.3,284.0 336.7,289.0 341.1,293.9 345.5,297.6 349.8,302.9 354.2,308.1 358.6,312.8 363.0,316.4 367.3,319.2 371.7,323.7 376.1,327.6 380.5,331.4 384.8,336.1 389.2,339.5 393.6,341.5 398.0,342.6 402.3,344.1 406.7,343.9 411.1,344.2 415.5,345.1 419.8,348.3 424.2,350.1 428.6,351.7 433.0,354.2 437.3,354.6 441.7,355.0 446.1,355.2 450.4,356.8 454.8,359.5 459.2,362.0 463.6,365.5 467.9,368.1 472.3,370.6 476.7,373.4 481.1,377.6 485.4,381.2 489.8,384.6 494.2,387.6 498.6,389.9 502.9,391.4 507.3,391.7 511.7,393.3 516.1,395.3 520.4,396.2 524.8,398.8 529.2,400.1 533.6,401.8 537.9,403.1 542.3,403.8 546.7,404.4 551.0,404.8 555.4,405.9 559.8,406.3 564.2,407.8 568.5,409.0 572.9,411.5 577.3,413.5 581.7,416.1 586.0,419.1 590.4,421.8 594.8,423.9 599.2,425.0 603.5,425.7 607.9,427.0 612.3,427.4 616.7,428.3 621.0,428.8 625.4,428.6 629.8,429.7 634.2,431.0 638.5,432.6 642.9,434.7 647.3,437.2 651.7,439.1 656.0,441.5 660.4,443.5 664.8,446.0 669.1,448.6 673.5,450.7 677.9,453.1 682.3,455.3 686.6,456.7 691.0,458.5 695.4,460.5 699.8,462.5 704.1,464.8 708.5,467.1 712.9,469.3 717.3,471.0 721.6,472.6 726.0,473.7 730.4,474.5 734.8,475.2 739.1,476.5 743.5,477.0 747.9,477.3 752.3,477.7 756.6,478.1 761.0,478.7 765.4,478.9 769.7,479.8 774.1,481.3 778.5,482.6 782.9,483.7 787.2,484.8 791.6,485.4 796.0,486.4 800.4,487.4 804.7,488.3 809.1,488.8 813.5,489.4 817.9,489.9 822.2,490.7 826.6,491.3 831.0,492.0 835.4,492.8 839.7,493.5 844.1,494.3 848.5,495.0 852.9,495.9 857.2,496.5 861.6,497.1 866.0,497.7 870.4,498.4 874.7,498.6 879.1,498.8 883.5,499.0 887.8,499.2 892.2,499.3 896.6,499.7 901.0,500.0 905.3,496.4" fill="none" stroke="#f25a60" stroke-width="1.1"/>
<polyline points="13.0,204.1 17.4,171.1 21.8,146.3 26.2,126.2 30.5,129.1 34.9,140.6 39.3,159.6 43.7,170.5 48.0,177.3 52.4,179.6 56.8,183.5 61.2,193.7 65.5,207.3 69.9,218.8 74.3,228.0 78.7,235.0 83.0,228.4 87.4,223.6 91.8,224.0 96.2,218.1 100.5,208.7 104.9,201.7 109.3,197.0 113.6,184.4 118.0,185.8 122.4,198.0 126.8,216.8 131.1,231.8 135.5,258.3 139.9,274.1 144.3,283.7 148.6,289.1 153.0,299.3 157.4,297.6 161.8,304.5 166.1,307.5 170.5,305.3 174.9,296.1 179.3,289.0 183.6,274.4 188.0,262.5 192.4,242.4 196.8,218.6 201.1,203.8 205.5,189.1 209.9,171.6 214.3,171.2 218.6,179.2 223.0,178.6 227.4,188.4 231.7,196.9 236.1,211.2 240.5,227.6 244.9,238.4 249.2,242.2 253.6,251.3 258.0,252.3 262.4,247.7 266.7,255.9 271.1,266.9 275.5,279.2 279.9,287.2 284.2,289.0 288.6,287.3 293.0,283.5 297.4,276.1 301.7,271.3 306.1,272.7 310.5,277.6 314.9,280.7 319.2,291.7 323.6,301.6 328.0,311.2 332.3,315.4 336.7,324.8 341.1,328.7 345.5,330.1 349.8,338.5 354.2,352.2 358.6,362.2 363.0,369.1 367.3,373.9 371.7,372.5 376.1,365.4 380.5,358.0 384.8,355.0 389.2,352.3 393.6,343.9 398.0,337.5 402.3,331.5 406.7,322.9 411.1,320.4 415.5,325.7 419.8,338.3 424.2,348.8 428.6,359.6 433.0,370.3 437.3,376.1 441.7,378.7 446.1,382.4 450.4,389.8 454.8,394.8 459.2,402.1 463.6,407.6 467.9,409.9 472.3,410.3 476.7,408.2 481.1,406.6 485.4,400.3 489.8,397.2 494.2,390.8 498.6,386.2 502.9,380.7 507.3,380.1 511.7,383.9 516.1,390.3 520.4,395.5 524.8,405.6 529.2,412.4 533.6,416.2 537.9,421.1 542.3,425.4 546.7,424.7 551.0,426.3 555.4,426.3 559.8,423.1 564.2,424.2 568.5,425.0 572.9,427.1 577.3,427.8 581.7,430.0 586.0,431.2 590.4,431.9 594.8,429.6 599.2,429.8 603.5,428.7 607.9,426.9 612.3,427.9 616.7,430.1 621.0,431.2 625.4,432.7 629.8,436.4 634.2,439.1 638.5,443.6 642.9,450.1 647.3,457.5 651.7,461.7 656.0,467.0 660.4,470.8 664.8,473.0 669.1,475.5 673.5,477.8 677.9,478.5 682.3,476.6 686.6,472.4 691.0,468.3 695.4,466.3 699.8,465.5 704.1,468.2 708.5,472.8 712.9,475.9 717.3,478.2 721.6,479.3 726.0,479.2 730.4,479.8 734.8,481.3 739.1,483.6 743.5,484.7 747.9,485.0 752.3,486.0 756.6,486.8 761.0,486.5 765.4,486.3 769.7,486.6 774.1,486.7 778.5,486.6 782.9,486.6 787.2,489.1 791.6,490.8 796.0,493.0 800.4,494.9 804.7,496.5 809.1,495.4 813.5,495.1 817.9,494.0 822.2,494.6 826.6,495.7 831.0,497.5 835.4,498.7 839.7,500.4 844.1,501.1 848.5,501.3 852.9,501.5 857.2,501.2 861.6,500.8 866.0,500.3 870.4,500.0 874.7,500.0 879.1,500.2 883.5,500.7 887.8,500.7 892.2,500.3 896.6,499.8 901.0,499.8 905.3,483.6" fill="none" stroke="#68c95e" stroke-width="1.15"/>
<g clip-path="url(#cv)"><rect x="2.90" y="653.3" width="2.8" height="1.7" fill="#f8a2a4"/><rect x="7.27" y="652.5" width="2.8" height="2.5" fill="#f8a2a4"/><rect x="11.65" y="652.5" width="2.8" height="2.5" fill="#9cc2f6"/><rect x="16.02" y="653.3" width="2.8" height="1.7" fill="#f8a2a4"/><rect x="20.40" y="652.5" width="2.8" height="2.5" fill="#f8a2a4"/><rect x="24.77" y="653.3" width="2.8" height="1.7" fill="#9cc2f6"/><rect x="29.14" y="653.3" width="2.8" height="1.7" fill="#9cc2f6"/><rect x="33.52" y="653.3" width="2.8" height="1.7" fill="#9cc2f6"/><rect x="37.89" y="653.3" width="2.8" height="1.7" fill="#9cc2f6"/><rect x="42.27" y="653.3" width="2.8" height="1.7" fill="#f8a2a4"/><rect x="46.64" y="653.3" width="2.8" height="1.7" fill="#f8a2a4"/><rect x="51.01" y="653.3" width="2.8" height="1.7" fill="#9cc2f6"/><rect x="55.39" y="653.3" width="2.8" height="1.7" fill="#f8a2a4"/><rect x="59.76" y="653.3" width="2.8" height="1.7" fill="#9cc2f6"/><rect x="64.14" y="652.5" width="2.8" height="2.5" fill="#f8a2a4"/><rect x="68.51" y="652.5" width="2.8" height="2.5" fill="#f8a2a4"/><rect x="72.88" y="653.3" width="2.8" height="1.7" fill="#f8a2a4"/><rect x="77.26" y="653.3" width="2.8" height="1.7" fill="#f8a2a4"/><rect x="81.63" y="653.3" width="2.8" height="1.7" fill="#f8a2a4"/><rect x="86.01" y="653.3" width="2.8" height="1.7" fill="#9cc2f6"/><rect x="90.38" y="653.3" width="2.8" height="1.7" fill="#9cc2f6"/><rect x="94.75" y="653.3" width="2.8" height="1.7" fill="#f8a2a4"/><rect x="99.13" y="653.3" width="2.8" height="1.7" fill="#f8a2a4"/><rect x="103.50" y="653.3" width="2.8" height="1.7" fill="#f8a2a4"/><rect x="107.88" y="653.3" width="2.8" height="1.7" fill="#9cc2f6"/><rect x="112.25" y="653.3" width="2.8" height="1.7" fill="#f8a2a4"/><rect x="116.62" y="653.3" width="2.8" height="1.7" fill="#9cc2f6"/><rect x="121.00" y="653.3" width="2.8" height="1.7" fill="#9cc2f6"/><rect x="125.37" y="653.3" width="2.8" height="1.7" fill="#9cc2f6"/><rect x="129.75" y="652.5" width="2.8" height="2.5" fill="#f8a2a4"/><rect x="134.12" y="653.3" width="2.8" height="1.7" fill="#9cc2f6"/><rect x="138.49" y="653.3" width="2.8" height="1.7" fill="#f8a2a4"/><rect x="142.87" y="653.3" width="2.8" height="1.7" fill="#9cc2f6"/><rect x="147.24" y="653.3" width="2.8" height="1.7" fill="#9cc2f6"/><rect x="151.62" y="653.3" width="2.8" height="1.7" fill="#9cc2f6"/><rect x="155.99" y="653.3" width="2.8" height="1.7" fill="#f8a2a4"/><rect x="160.36" y="653.3" width="2.8" height="1.7" fill="#9cc2f6"/><rect x="164.74" y="653.3" width="2.8" height="1.7" fill="#f8a2a4"/><rect x="169.11" y="653.3" width="2.8" height="1.7" fill="#f8a2a4"/><rect x="173.49" y="653.3" width="2.8" height="1.7" fill="#9cc2f6"/><rect x="177.86" y="653.3" width="2.8" height="1.7" fill="#f8a2a4"/><rect x="182.23" y="653.3" width="2.8" height="1.7" fill="#f8a2a4"/><rect x="186.61" y="653.3" width="2.8" height="1.7" fill="#f8a2a4"/><rect x="190.98" y="652.7" width="2.8" height="2.3" fill="#f8a2a4"/><rect x="195.36" y="652.7" width="2.8" height="2.3" fill="#9cc2f6"/><rect x="199.73" y="652.7" width="2.8" height="2.3" fill="#9cc2f6"/><rect x="204.10" y="653.3" width="2.8" height="1.7" fill="#f8a2a4"/><rect x="208.48" y="652.8" width="2.8" height="2.2" fill="#f8a2a4"/><rect x="212.85" y="652.8" width="2.8" height="2.2" fill="#f8a2a4"/><rect x="217.23" y="652.8" width="2.8" height="2.2" fill="#9cc2f6"/><rect x="221.60" y="652.8" width="2.8" height="2.2" fill="#9cc2f6"/><rect x="225.97" y="653.3" width="2.8" height="1.7" fill="#9cc2f6"/><rect x="230.35" y="653.3" width="2.8" height="1.7" fill="#f8a2a4"/><rect x="234.72" y="651.5" width="2.8" height="3.5" fill="#f8a2a4"/><rect x="239.10" y="652.7" width="2.8" height="2.3" fill="#9cc2f6"/><rect x="243.47" y="652.7" width="2.8" height="2.3" fill="#9cc2f6"/><rect x="247.84" y="652.8" width="2.8" height="2.2" fill="#f8a2a4"/><rect x="252.22" y="653.3" width="2.8" height="1.7" fill="#9cc2f6"/><rect x="256.59" y="652.0" width="2.8" height="3.0" fill="#f8a2a4"/><rect x="260.97" y="653.3" width="2.8" height="1.7" fill="#9cc2f6"/><rect x="265.34" y="653.3" width="2.8" height="1.7" fill="#9cc2f6"/><rect x="269.71" y="652.8" width="2.8" height="2.2" fill="#f8a2a4"/><rect x="274.09" y="653.3" width="2.8" height="1.7" fill="#9cc2f6"/><rect x="278.46" y="653.3" width="2.8" height="1.7" fill="#9cc2f6"/><rect x="282.84" y="653.3" width="2.8" height="1.7" fill="#f8a2a4"/><rect x="287.21" y="653.3" width="2.8" height="1.7" fill="#f8a2a4"/><rect x="291.58" y="652.8" width="2.8" height="2.2" fill="#f8a2a4"/><rect x="295.96" y="652.8" width="2.8" height="2.2" fill="#9cc2f6"/><rect x="300.33" y="653.3" width="2.8" height="1.7" fill="#9cc2f6"/><rect x="304.71" y="653.3" width="2.8" height="1.7" fill="#9cc2f6"/><rect x="309.08" y="653.3" width="2.8" height="1.7" fill="#9cc2f6"/><rect x="313.45" y="652.7" width="2.8" height="2.3" fill="#f8a2a4"/><rect x="317.83" y="652.8" width="2.8" height="2.2" fill="#9cc2f6"/><rect x="322.20" y="652.8" width="2.8" height="2.2" fill="#f8a2a4"/><rect x="326.58" y="653.3" width="2.8" height="1.7" fill="#9cc2f6"/><rect x="330.95" y="653.3" width="2.8" height="1.7" fill="#f8a2a4"/><rect x="335.32" y="653.3" width="2.8" height="1.7" fill="#9cc2f6"/><rect x="339.70" y="653.3" width="2.8" height="1.7" fill="#f8a2a4"/><rect x="344.07" y="652.8" width="2.8" height="2.2" fill="#f8a2a4"/><rect x="348.45" y="652.0" width="2.8" height="3.0" fill="#f8a2a4"/><rect x="352.82" y="652.0" width="2.8" height="3.0" fill="#9cc2f6"/><rect x="357.19" y="652.7" width="2.8" height="2.3" fill="#9cc2f6"/><rect x="361.57" y="652.8" width="2.8" height="2.2" fill="#9cc2f6"/><rect x="365.94" y="652.8" width="2.8" height="2.2" fill="#f8a2a4"/><rect x="370.32" y="653.3" width="2.8" height="1.7" fill="#9cc2f6"/><rect x="374.69" y="652.8" width="2.8" height="2.2" fill="#f8a2a4"/><rect x="379.06" y="652.8" width="2.8" height="2.2" fill="#f8a2a4"/><rect x="383.44" y="653.3" width="2.8" height="1.7" fill="#9cc2f6"/><rect x="387.81" y="652.8" width="2.8" height="2.2" fill="#f8a2a4"/><rect x="392.19" y="652.0" width="2.8" height="3.0" fill="#f8a2a4"/><rect x="396.56" y="652.8" width="2.8" height="2.2" fill="#9cc2f6"/><rect x="400.93" y="653.3" width="2.8" height="1.7" fill="#9cc2f6"/><rect x="405.31" y="653.3" width="2.8" height="1.7" fill="#f8a2a4"/><rect x="409.68" y="653.3" width="2.8" height="1.7" fill="#9cc2f6"/><rect x="414.06" y="653.3" width="2.8" height="1.7" fill="#9cc2f6"/><rect x="418.43" y="652.0" width="2.8" height="3.0" fill="#f8a2a4"/><rect x="422.80" y="652.8" width="2.8" height="2.2" fill="#9cc2f6"/><rect x="427.18" y="653.3" width="2.8" height="1.7" fill="#9cc2f6"/><rect x="431.55" y="653.3" width="2.8" height="1.7" fill="#9cc2f6"/><rect x="435.93" y="652.8" width="2.8" height="2.2" fill="#f8a2a4"/><rect x="440.30" y="652.8" width="2.8" height="2.2" fill="#f8a2a4"/><rect x="444.67" y="652.8" width="2.8" height="2.2" fill="#9cc2f6"/><rect x="449.05" y="652.8" width="2.8" height="2.2" fill="#9cc2f6"/><rect x="453.42" y="652.8" width="2.8" height="2.2" fill="#f8a2a4"/><rect x="457.80" y="652.8" width="2.8" height="2.2" fill="#9cc2f6"/><rect x="462.17" y="652.8" width="2.8" height="2.2" fill="#9cc2f6"/><rect x="466.54" y="652.0" width="2.8" height="3.0" fill="#f8a2a4"/><rect x="470.92" y="652.8" width="2.8" height="2.2" fill="#9cc2f6"/><rect x="475.29" y="652.8" width="2.8" height="2.2" fill="#f8a2a4"/><rect x="479.67" y="653.3" width="2.8" height="1.7" fill="#9cc2f6"/><rect x="484.04" y="652.8" width="2.8" height="2.2" fill="#f8a2a4"/><rect x="488.41" y="652.8" width="2.8" height="2.2" fill="#9cc2f6"/><rect x="492.79" y="652.0" width="2.8" height="3.0" fill="#f8a2a4"/><rect x="497.16" y="653.3" width="2.8" height="1.7" fill="#f8a2a4"/><rect x="501.54" y="653.3" width="2.8" height="1.7" fill="#9cc2f6"/><rect x="505.91" y="653.2" width="2.8" height="1.8" fill="#f8a2a4"/><rect x="510.28" y="652.1" width="2.8" height="2.9" fill="#f8a2a4"/><rect x="514.66" y="652.1" width="2.8" height="2.9" fill="#9cc2f6"/><rect x="519.03" y="652.0" width="2.8" height="3.0" fill="#f8a2a4"/><rect x="523.41" y="649.8" width="2.8" height="5.2" fill="#f8a2a4"/><rect x="527.78" y="651.4" width="2.8" height="3.6" fill="#9cc2f6"/><rect x="532.15" y="652.0" width="2.8" height="3.0" fill="#9cc2f6"/><rect x="536.53" y="653.2" width="2.8" height="1.8" fill="#9cc2f6"/><rect x="540.90" y="652.1" width="2.8" height="2.9" fill="#f8a2a4"/><rect x="545.28" y="652.1" width="2.8" height="2.9" fill="#9cc2f6"/><rect x="549.65" y="652.1" width="2.8" height="2.9" fill="#9cc2f6"/><rect x="554.02" y="652.0" width="2.8" height="3.0" fill="#f8a2a4"/><rect x="558.40" y="653.5" width="2.8" height="1.5" fill="#9cc2f6"/><rect x="562.77" y="653.0" width="2.8" height="2.0" fill="#f8a2a4"/><rect x="567.15" y="653.2" width="2.8" height="1.8" fill="#f8a2a4"/><rect x="571.52" y="652.1" width="2.8" height="2.9" fill="#f8a2a4"/><rect x="575.89" y="650.6" width="2.8" height="4.4" fill="#f8a2a4"/><rect x="580.27" y="650.7" width="2.8" height="4.3" fill="#f8a2a4"/><rect x="584.64" y="653.2" width="2.8" height="1.8" fill="#9cc2f6"/><rect x="589.02" y="653.0" width="2.8" height="2.0" fill="#f8a2a4"/><rect x="593.39" y="653.2" width="2.8" height="1.8" fill="#9cc2f6"/><rect x="597.76" y="653.3" width="2.8" height="1.7" fill="#9cc2f6"/><rect x="602.14" y="653.2" width="2.8" height="1.8" fill="#f8a2a4"/><rect x="606.51" y="653.2" width="2.8" height="1.8" fill="#9cc2f6"/><rect x="610.89" y="653.2" width="2.8" height="1.8" fill="#f8a2a4"/><rect x="615.26" y="653.2" width="2.8" height="1.8" fill="#9cc2f6"/><rect x="619.63" y="653.3" width="2.8" height="1.7" fill="#f8a2a4"/><rect x="624.01" y="653.2" width="2.8" height="1.8" fill="#f8a2a4"/><rect x="628.38" y="653.0" width="2.8" height="2.0" fill="#f8a2a4"/><rect x="632.76" y="652.3" width="2.8" height="2.7" fill="#f8a2a4"/><rect x="637.13" y="651.5" width="2.8" height="3.5" fill="#f8a2a4"/><rect x="641.50" y="651.0" width="2.8" height="4.0" fill="#f8a2a4"/><rect x="645.88" y="651.0" width="2.8" height="4.0" fill="#f8a2a4"/><rect x="650.25" y="648.6" width="2.8" height="6.4" fill="#f8a2a4"/><rect x="654.63" y="650.1" width="2.8" height="4.9" fill="#9cc2f6"/><rect x="659.00" y="650.1" width="2.8" height="4.9" fill="#9cc2f6"/><rect x="663.37" y="649.3" width="2.8" height="5.7" fill="#f8a2a4"/><rect x="667.75" y="647.8" width="2.8" height="7.2" fill="#f8a2a4"/><rect x="672.12" y="649.3" width="2.8" height="5.7" fill="#9cc2f6"/><rect x="676.50" y="651.0" width="2.8" height="4.0" fill="#9cc2f6"/><rect x="680.87" y="650.1" width="2.8" height="4.9" fill="#f8a2a4"/><rect x="685.24" y="638.5" width="2.8" height="16.5" fill="#f8a2a4"/><rect x="689.62" y="649.3" width="2.8" height="5.7" fill="#9cc2f6"/><rect x="693.99" y="651.0" width="2.8" height="4.0" fill="#9cc2f6"/><rect x="698.37" y="645.3" width="2.8" height="9.7" fill="#f8a2a4"/><rect x="702.74" y="648.6" width="2.8" height="6.4" fill="#9cc2f6"/><rect x="707.11" y="646.2" width="2.8" height="8.8" fill="#f8a2a4"/><rect x="711.49" y="648.5" width="2.8" height="6.5" fill="#9cc2f6"/><rect x="715.86" y="649.3" width="2.8" height="5.7" fill="#9cc2f6"/><rect x="720.24" y="649.3" width="2.8" height="5.7" fill="#f8a2a4"/><rect x="724.61" y="650.1" width="2.8" height="4.9" fill="#9cc2f6"/><rect x="728.98" y="651.0" width="2.8" height="4.0" fill="#9cc2f6"/><rect x="733.36" y="649.3" width="2.8" height="5.7" fill="#f8a2a4"/><rect x="737.73" y="646.2" width="2.8" height="8.8" fill="#f8a2a4"/><rect x="742.11" y="641.0" width="2.8" height="14.0" fill="#f8a2a4"/><rect x="746.48" y="649.3" width="2.8" height="5.7" fill="#9cc2f6"/><rect x="750.85" y="644.0" width="2.8" height="11.0" fill="#f8a2a4"/><rect x="755.23" y="647.0" width="2.8" height="8.0" fill="#9cc2f6"/><rect x="759.60" y="647.0" width="2.8" height="8.0" fill="#f8a2a4"/><rect x="763.98" y="643.2" width="2.8" height="11.8" fill="#f8a2a4"/><rect x="768.35" y="641.0" width="2.8" height="14.0" fill="#f8a2a4"/><rect x="772.72" y="642.4" width="2.8" height="12.6" fill="#9cc2f6"/><rect x="777.10" y="644.8" width="2.8" height="10.2" fill="#9cc2f6"/><rect x="781.47" y="646.2" width="2.8" height="8.8" fill="#9cc2f6"/><rect x="785.85" y="629.3" width="2.8" height="25.7" fill="#f8a2a4"/><rect x="790.22" y="639.3" width="2.8" height="15.7" fill="#9cc2f6"/><rect x="794.59" y="644.0" width="2.8" height="11.0" fill="#9cc2f6"/><rect x="798.97" y="648.6" width="2.8" height="6.4" fill="#9cc2f6"/><rect x="803.34" y="644.9" width="2.8" height="10.1" fill="#f8a2a4"/><rect x="807.72" y="627.0" width="2.8" height="28.0" fill="#f8a2a4"/><rect x="812.09" y="637.9" width="2.8" height="17.1" fill="#9cc2f6"/><rect x="816.46" y="640.2" width="2.8" height="14.8" fill="#9cc2f6"/><rect x="820.84" y="602.4" width="2.8" height="52.6" fill="#f8a2a4"/><rect x="825.21" y="644.9" width="2.8" height="10.1" fill="#9cc2f6"/><rect x="829.59" y="642.3" width="2.8" height="12.7" fill="#f8a2a4"/><rect x="833.96" y="648.6" width="2.8" height="6.4" fill="#9cc2f6"/><rect x="838.33" y="639.3" width="2.8" height="15.7" fill="#f8a2a4"/><rect x="842.71" y="629.3" width="2.8" height="25.7" fill="#f8a2a4"/><rect x="847.08" y="559.3" width="2.8" height="95.7" fill="#f8a2a4"/><rect x="851.46" y="550.9" width="2.8" height="104.1" fill="#f8a2a4"/><rect x="855.83" y="633.1" width="2.8" height="21.9" fill="#9cc2f6"/><rect x="860.20" y="627.9" width="2.8" height="27.1" fill="#f8a2a4"/><rect x="864.58" y="649.3" width="2.8" height="5.7" fill="#9cc2f6"/><rect x="868.95" y="649.3" width="2.8" height="5.7" fill="#9cc2f6"/><rect x="873.33" y="650.2" width="2.8" height="4.8" fill="#9cc2f6"/><rect x="877.70" y="651.1" width="2.8" height="3.9" fill="#9cc2f6"/><rect x="882.07" y="651.6" width="2.8" height="3.4" fill="#9cc2f6"/><rect x="886.45" y="652.1" width="2.8" height="2.9" fill="#9cc2f6"/><rect x="890.82" y="617.9" width="2.8" height="37.1" fill="#f8a2a4"/><rect x="895.20" y="609.4" width="2.8" height="45.6" fill="#f8a2a4"/><rect x="899.57" y="628.7" width="2.8" height="26.3" fill="#9cc2f6"/><rect x="903.94" y="646.9" width="2.8" height="8.1" fill="#9cc2f6"/></g>
<circle cx="22" cy="86.6" r="2" fill="#111"/>
<circle cx="848.8" cy="506.4" r="2" fill="#111"/>
</svg>

<div id="legend"><span class="kr">이동평균</span></div>
<div class="lg" style="left:44.1px;color:#4dbb4d">5</div>
<div class="lg" style="left:52.3px;color:#f0454f">20</div>
<div class="lg" style="left:66.2px;color:#f58a2c">60</div>
<div class="lg" style="left:80.1px;color:#a35fe0">120</div>
<div class="xbtn abs" style="left:100.7px;top:50px">✕</div>
<div id="linear">Linear</div>
<div class="mk" style="left:3px;top:69.7px"><span class="k">최고</span><span style="margin-left:4.5px">142.3312 (-79.91%)</span></div>
<div class="mk" style="left:803px;top:511px"><span class="k">최저</span><span style="margin-left:5px">0.3876 (+7278.74%)</span></div>

<div id="vsep"></div>
<div id="vlabel"><span class="kr">거래량</span> <b style="font-weight:bold;color:#2a2a2a">8,863,007</b></div>
<div class="xbtn abs" style="left:85px;top:540.8px">✕</div>

<div class="yl" style="top:133.8px">125.0000</div>
<div class="yl" style="top:206.6px">100.0000</div>
<div class="yl" style="top:279.4px">75.0000</div>
<div class="yl" style="top:352.2px">50.0000</div>
<div class="yl" style="top:425.0px">25.0000</div>
<div class="yl" style="top:497.8px">0</div>
<div class="yl" style="top:546.2px">1000m</div>
<div class="yl" style="top:571.4px">750m</div>
<div class="yl" style="top:597.1px">500m</div>
<div class="yl" style="top:622.3px">250m</div>

<div id="ptag"><span>28.6000</span></div>

<div id="axline"></div>
<div id="xaxis"></div>
<div class="xl b" style="left:30.4px">2022</div>
<div class="xl" style="left:88.0px">4월</div>
<div class="xl" style="left:144.7px">7월</div>
<div class="xl" style="left:201.7px">10월</div>
<div class="xl b" style="left:258.5px">2023</div>
<div class="xl" style="left:315.9px">4월</div>
<div class="xl" style="left:372.7px">7월</div>
<div class="xl" style="left:429.4px">10월</div>
<div class="xl b" style="left:490.3px">2024</div>
<div class="xl" style="left:547.7px">4월</div>
<div class="xl" style="left:604.8px">7월</div>
<div class="xl" style="left:661.4px">10월</div>
<div class="xl b" style="left:717.8px">2025</div>
<div class="xl" style="left:775.1px">4월</div>
<div class="xl" style="left:831.7px">7월</div>
<div class="xl" style="left:870.7px">9월</div>

</body></html>
